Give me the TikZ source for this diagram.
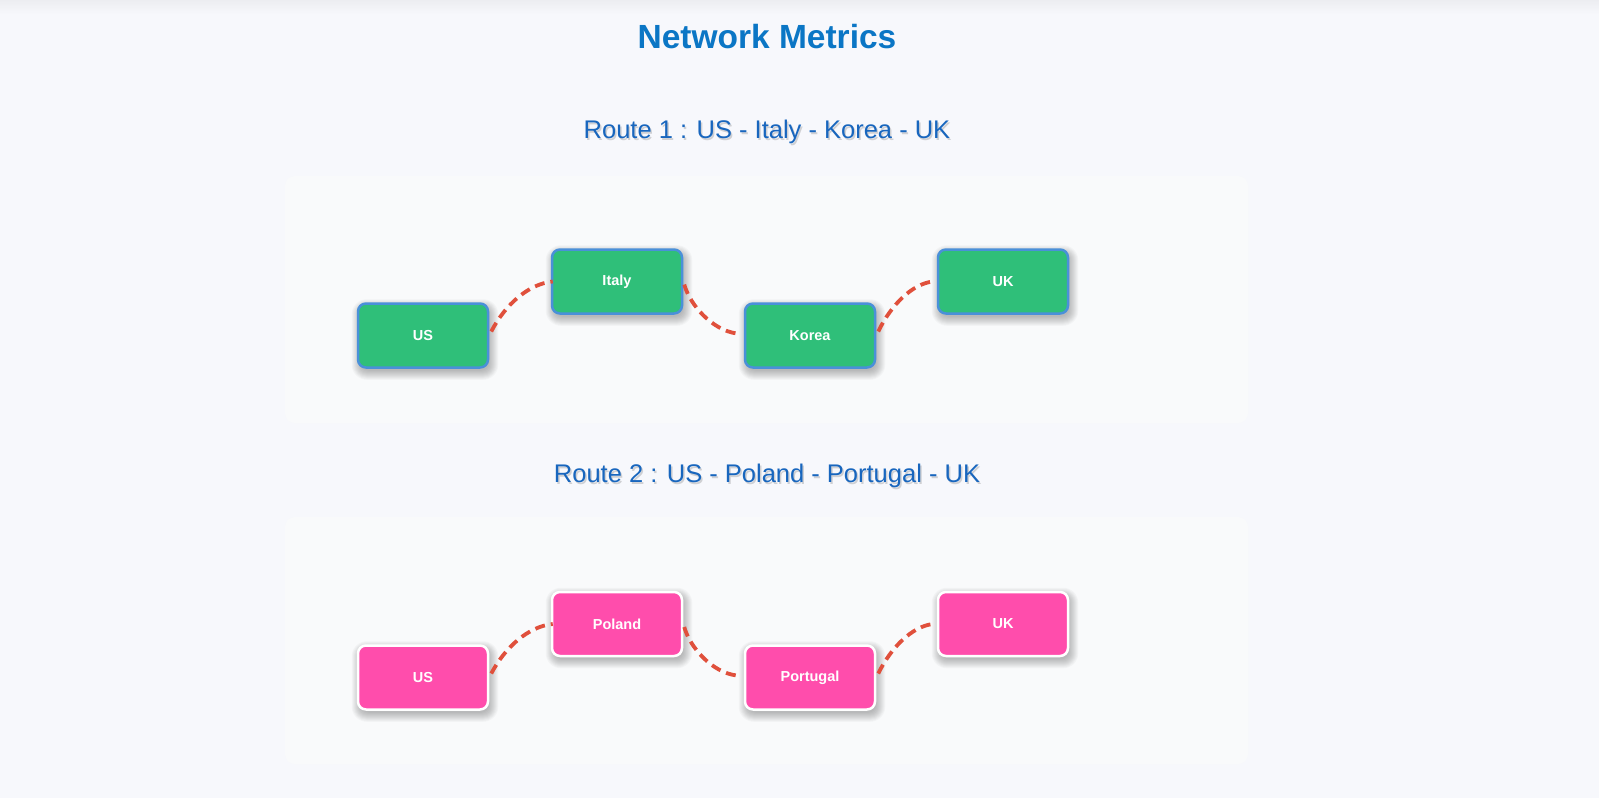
\documentclass[tikz,border=0pt]{standalone}
\usepackage{fontspec}
\setmainfont{Liberation Sans}
\definecolor{bgc}{RGB}{247,248,252}
\definecolor{panelc}{RGB}{249,250,251}
\definecolor{topc}{RGB}{236,237,241}
\definecolor{titlec}{RGB}{11,118,197}
\definecolor{routec}{RGB}{24,102,190}
\definecolor{greenc}{RGB}{47,191,121}
\definecolor{blueedge}{RGB}{74,144,217}
\definecolor{pinkc}{RGB}{255,77,172}
\definecolor{dashc}{RGB}{224,80,60}
\pgfdeclarelayer{bottomlayer}
\pgfdeclarelayer{shadowlayer}
\pgfsetlayers{bottomlayer,shadowlayer,main}
\newcommand\castshadow[1]{%
  \begin{pgfonlayer}{shadowlayer}
  \foreach \r in {-2,-1,...,7}{%
    \fill[black,opacity=0.028,rounded corners={(8+max(\r,0))*1pt}]
      ([xshift={(2-(\r))*1pt},yshift={(-4-(\r))*1pt}]#1.south west)
      rectangle ([xshift={(2+(\r))*1pt},yshift={(-4+(\r))*1pt}]#1.north east);
  }
  \end{pgfonlayer}}
\tikzset{
  px/.style={x=1pt,y=-1pt},
  citybox/.style={minimum width=130pt,minimum height=64pt,inner sep=0pt,rounded corners=8pt,
    line width=2.5pt,text=white,font=\fontsize{14.5}{17}\selectfont\bfseries},
  greenbox/.style={citybox,fill=greenc,draw=blueedge},
  pinkbox/.style={citybox,fill=pinkc,draw=white},
  link/.style={draw=dashc,line width=3.8pt,dash pattern=on 10pt off 6pt},
  titletext/.style={text=titlec,font=\fontsize{33.5}{40}\selectfont\bfseries,anchor=base},
  routetext/.style={text=routec,font=\fontsize{25.5}{30}\selectfont,anchor=base},
  routeshadow/.style={text=black,opacity=0.16,font=\fontsize{25.5}{30}\selectfont,anchor=base},
}
\begin{document}
\begin{tikzpicture}[px]
\useasboundingbox (0,0) rectangle (1599,798);
\begin{pgfonlayer}{bottomlayer}
\fill[bgc] (0,0) rectangle (1599,798);
\shade[top color=topc,bottom color=bgc] (0,0) rectangle (1599,14);
\fill[panelc,rounded corners=10pt] (285,176) rectangle (1248,423);
\fill[panelc,rounded corners=10pt] (285,517) rectangle (1248,764);
\end{pgfonlayer}
% titles
\node[titletext] (title) at (767,48) {Network Metrics};
\node[routeshadow] (r1s) at (768.5,140) {Route 1 : US - Italy - Korea - UK};
\node[routetext] (r1) at (767,138.3) {Route 1 : US - Italy - Korea - UK};
\node[routeshadow] (r2s) at (768.5,484) {Route 2 : US - Poland - Portugal - UK};
\node[routetext] (r2) at (767,482) {Route 2 : US - Poland - Portugal - UK};
% route 1
\node[greenbox] (us1) at (423,335.5) {US};
\node[greenbox] (italy) at (617,281.5) {Italy};
\node[greenbox] (korea) at (810,335.5) {Korea};
\node[greenbox] (uk1) at (1003,281.5) {UK};
\draw[link] ([xshift=2pt,yshift=4pt]us1.east) .. controls (505,305) and (528,284) .. ([xshift=2pt]italy.west);
\draw[link] ([xshift=1pt,yshift=-3pt]italy.east) .. controls (690,305) and (712,330) .. ([xshift=-7pt,yshift=2pt]korea.west);
\draw[link] ([xshift=2pt,yshift=4pt]korea.east) .. controls (891,305) and (912,284) .. ([xshift=-4pt]uk1.west);
% route 2
\node[pinkbox] (us2) at (423,677.5) {US};
\node[pinkbox] (poland) at (617,624) {Poland};
\node[pinkbox] (portugal) at (810,677.5) {Portugal};
\node[pinkbox] (uk2) at (1003,624) {UK};
\draw[link] ([xshift=2pt,yshift=4pt]us2.east) .. controls (505,647.5) and (528,626.5) .. ([xshift=2pt]poland.west);
\draw[link] ([xshift=1pt,yshift=-3pt]poland.east) .. controls (690,647.5) and (712,672.5) .. ([xshift=-7pt,yshift=2pt]portugal.west);
\draw[link] ([xshift=2pt,yshift=4pt]portugal.east) .. controls (891,647.5) and (912,626.5) .. ([xshift=-4pt]uk2.west);
% shadows
\castshadow{us1}\castshadow{italy}\castshadow{korea}\castshadow{uk1}
\castshadow{us2}\castshadow{poland}\castshadow{portugal}\castshadow{uk2}
\end{tikzpicture}
\end{document}
